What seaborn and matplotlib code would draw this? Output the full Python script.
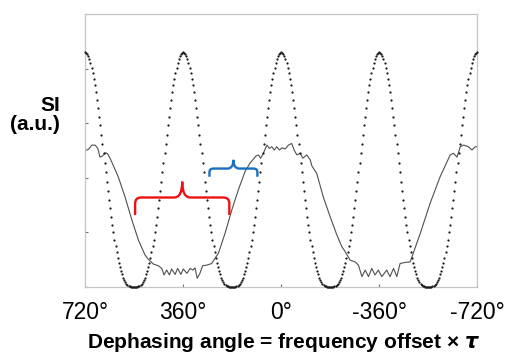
import numpy as np
import pandas as pd
import matplotlib
matplotlib.use("Agg")
import matplotlib.pyplot as plt
from matplotlib.path import Path
from matplotlib.patches import PathPatch
import seaborn as sns

# dotted trace: one half period (peak -> trough), read every 4 degrees
DOT_STEP = 4
DOT_HALF = [4.30, 4.29, 4.27, 4.23, 4.18, 4.11, 4.02, 3.93, 3.82, 3.70,
            3.57, 3.43, 3.28, 3.12, 2.96, 2.79, 2.62, 2.45, 2.28, 2.10,
            1.93, 1.76, 1.60, 1.44, 1.29, 1.14, 1.00, 0.87, 0.75, 0.64,
            0.54, 0.44, 0.36, 0.29, 0.23, 0.17, 0.13, 0.09, 0.06, 0.04,
            0.02, 0.01, 0.00, 0.00, 0.00, 0.00]

# solid trace vertices (degrees, SI)
SOLID_DEG = [720, 708, 695, 683, 673, 665, 656, 644, 637, 628,
             598, 573, 548, 524, 500, 488, 469, 451, 438, 430,
             420, 410, 402, 389, 380, 368, 359, 346, 334, 324,
             316, 308, 298, 288, 273, 255, 242, 230, 206, 181,
             157, 132, 114, 99, 92, 83, 75, 66, 52, 43,
             34, 25, 16, 6, -3, -15, -27, -39, -48, -58,
             -70, -80, -94, -107, -113, -131, -155, -180, -205, -223,
             -235, -254, -272, -284, -297, -309, -321, -333, -345, -357,
             -370, -388, -400, -413, -425, -437, -456, -474, -511, -547,
             -584, -621, -633, -646, -658, -670, -688, -701, -713, -720]
SOLID_SI = [2.50, 2.52, 2.60, 2.60, 2.54, 2.38, 2.40, 2.46, 2.44, 2.36,
            2.02, 1.65, 1.23, 0.86, 0.59, 0.51, 0.42, 0.39, 0.34, 0.22,
            0.31, 0.22, 0.33, 0.23, 0.34, 0.23, 0.33, 0.25, 0.34, 0.31,
            0.35, 0.16, 0.25, 0.39, 0.40, 0.43, 0.53, 0.62, 0.98, 1.41,
            1.78, 2.12, 2.27, 2.36, 2.40, 2.42, 2.36, 2.44, 2.60, 2.54,
            2.57, 2.51, 2.57, 2.51, 2.55, 2.53, 2.60, 2.63, 2.51, 2.42,
            2.45, 2.36, 2.42, 2.33, 2.22, 2.08, 1.65, 1.29, 0.95, 0.74,
            0.65, 0.49, 0.46, 0.40, 0.19, 0.31, 0.19, 0.34, 0.22, 0.31,
            0.19, 0.31, 0.19, 0.34, 0.19, 0.43, 0.45, 0.46, 0.98, 1.53,
            2.02, 2.42, 2.45, 2.38, 2.57, 2.60, 2.57, 2.51, 2.57, 2.57]

X_TICKS = [720, 360, 0, -360, -720]
X_TICK_LABELS = ["720°", "360°", "0°", "-360°", "-720°"]

# periodic trace: half period mirrored, then repeated across the window
period = DOT_HALF + DOT_HALF[-2:0:-1]
dot_si = np.array(period * 4 + [DOT_HALF[0]])
dot_deg = 720 - DOT_STEP * np.arange(len(dot_si))
dots = pd.DataFrame({"deg": dot_deg, "si": dot_si})
solid = pd.DataFrame({"deg": SOLID_DEG, "si": SOLID_SI})

sns.set_style("white")
plt.rcParams["font.family"] = ["Liberation Sans", "DejaVu Sans"]
plt.rcParams["text.color"] = "black"
plt.rcParams["axes.labelcolor"] = "black"
plt.rcParams["xtick.color"] = "black"
plt.rcParams["ytick.color"] = "black"

fig = plt.figure(figsize=(5.06, 3.53), dpi=100)
ax = fig.add_axes([0.168, 0.187, 0.775, 0.773])

sns.lineplot(data=solid, x="deg", y="si", sort=False, estimator=None,
             color="#505050", linewidth=0.8, ax=ax)
sns.scatterplot(data=dots, x="deg", y="si", color="#1a1a1a", s=2.6,
                linewidth=0, ax=ax, clip_on=False, zorder=3)


def brace(ax, x_left, x_right, y_end, y_bar, y_tip, rx, ry, tip_rx, color):
    s = np.sign(x_right - x_left)
    xm = (x_left + x_right) / 2
    verts = [(x_left, y_end), (x_left, y_bar - ry), (x_left, y_bar),
             (x_left + s * rx, y_bar), (xm - s * tip_rx, y_bar),
             (xm, y_bar), (xm, y_tip), (xm, y_bar),
             (xm + s * tip_rx, y_bar), (x_right - s * rx, y_bar),
             (x_right, y_bar), (x_right, y_bar - ry), (x_right, y_end)]
    codes = [Path.MOVETO, Path.LINETO, Path.CURVE3, Path.CURVE3, Path.LINETO,
             Path.CURVE3, Path.CURVE3, Path.CURVE3, Path.CURVE3, Path.LINETO,
             Path.CURVE3, Path.CURVE3, Path.LINETO]
    ax.add_patch(PathPatch(Path(verts, codes), facecolor="none",
                           edgecolor=color, linewidth=1.7, zorder=4,
                           capstyle="butt"))


brace(ax, 536, 190, 1.32, 1.64, 1.93, 22, 0.11, 30, "#ee1111")
brace(ax, 263, 87, 2.02, 2.17, 2.33, 14, 0.07, 22, "#1a6fc0")

ax.set_xlim(720, -720)
ax.set_ylim(0, 5)
ax.set_xticks(X_TICKS)
ax.set_xticklabels(X_TICK_LABELS, fontsize=16.5)
ax.set_yticks(range(6))
ax.set_yticklabels([])
ax.tick_params(axis="both", direction="in", length=2.5, width=0.8,
               color="#707070", labelcolor="black", pad=10.4)
ax.tick_params(axis="x", bottom=True)
ax.tick_params(axis="y", left=True)
for sp in ax.spines.values():
    sp.set_color("#c4c4c4")
    sp.set_linewidth(0.9)

ax.set_xlabel(r"Dephasing angle = frequency offset × $\boldsymbol{\tau}$",
              fontsize=15, fontweight="bold", color="black")
ax.xaxis.set_label_coords(0.505, -0.16)
ax.set_ylabel("SI\n(a.u.)", rotation=0, fontsize=15, fontweight="bold",
              ha="right", va="center", multialignment="right",
              linespacing=0.95, color="black")
ax.yaxis.set_label_coords(-0.064, 0.63)

fig.savefig("out.png", dpi=100)
